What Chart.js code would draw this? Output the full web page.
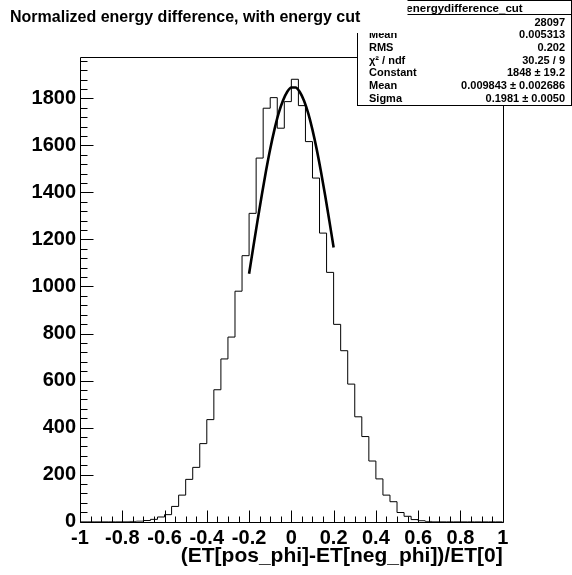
<!DOCTYPE html>
<html><head><meta charset="utf-8">
<script src="https://cdn.jsdelivr.net/npm/chart.js@4/dist/chart.umd.min.js"></script>
<style>html,body{margin:0;padding:0;background:#fff}canvas{display:block}</style>
</head><body>
<canvas id="c" width="572" height="575"></canvas>
<script>
// ---- data ----
const titleText = "Normalized energy difference, with energy cut";
const xAxisTitle = "(ET[pos_phi]-ET[neg_phi])/ET[0]";
const xMin = -1, xMax = 1, nBins = 60;
const counts = [0,0,0,0,0,0,0,0,1,2,5,10,20,30,65,113,180,231,332,434,561,692,785,980,1131,1311,1546,1758,1803,1673,1786,1881,1769,1616,1461,1227,1060,839,727,585,446,362,258,182,113,85,39,23,9,4,1,0,0,0,0,0,0,0,0,0];
const fitX = [-0.2,-0.18,-0.16,-0.14,-0.12,-0.1,-0.08,-0.06,-0.04,-0.02,0,0.02,0.04,0.06,0.08,0.1,0.12,0.14,0.16,0.18,0.2];
const fitY = [1054,1168,1280,1388,1491,1585,1667,1737,1790,1827,1846,1846,1827,1790,1736,1666,1583,1489,1387,1278,1166];
const yAxisMax = 1977;
const yTicks = [0,200,400,600,800,1000,1200,1400,1600,1800];
const xTicks = [-1,-0.8,-0.6,-0.4,-0.2,0,0.2,0.4,0.6,0.8,1];
const yMinorStep = 40, xMinorStep = 0.05;
const statsTitle = "energydifference_cut";
const statLabels = ["Entries","Mean","RMS","\u03C7\u00B2 / ndf","Constant","Mean","Sigma"];
const statValues = ["28097","0.005313","0.202","30.25 / 9","1848 \u00B1 19.2","0.009843 \u00B1 0.002686","0.1981 \u00B1 0.0050"];

const FONT = "'Liberation Sans', Arial, Helvetica, sans-serif";
const binW = (xMax - xMin) / nBins;
const histPts = counts.map((c, k) => ({x: xMin + k * binW, y: c}));
histPts.push({x: xMax, y: counts[counts.length - 1]});
const fitPts = fitX.map((x, i) => ({x, y: fitY[i]}));

const fmt = v => { const r = Math.round(v * 10) / 10; return (Math.abs(r) < 1e-9 ? 0 : r).toString(); };

const rootPlugin = {
  id: 'rootStyle',
  beforeDatasetsDraw(chart) {
    const {ctx, chartArea: a, scales: {x, y}} = chart;
    ctx.save();
    ctx.strokeStyle = '#000'; ctx.lineWidth = 1;
    const L = Math.round(a.left) + 0.5, R = Math.round(a.right) + 0.5, T = Math.round(a.top) + 0.5, B = Math.round(a.bottom) + 0.5;
    ctx.beginPath();
    ctx.rect(L, T, R - L, B - T);
    for (let i = 0; i * yMinorStep <= yAxisMax; i++) {
      const v = i * yMinorStep;
      const py = Math.round(y.getPixelForValue(v)) + 0.5;
      const len = yTicks.includes(v) ? 13 : 7;
      ctx.moveTo(L, py); ctx.lineTo(L + len, py);
    }
    const n = Math.round((xMax - xMin) / xMinorStep);
    for (let i = 0; i <= n; i++) {
      const v = xMin + i * xMinorStep;
      const px = Math.round(x.getPixelForValue(v)) + 0.5;
      const major = xTicks.some(t => Math.abs(t - v) < 1e-6);
      const len = major ? 12 : 6;
      ctx.moveTo(px, B); ctx.lineTo(px, B - len);
    }
    ctx.stroke();
    ctx.restore();
  },
  afterDraw(chart) {
    const {ctx} = chart;
    ctx.save();
    const bx0 = 357.5, by0 = 0.5, bx1 = chart.width - 0.5, by1 = 105.5;
    ctx.fillStyle = '#fff';
    ctx.fillRect(bx0, by0, bx1 - bx0, by1 - by0);
    ctx.strokeStyle = '#000'; ctx.lineWidth = 1;
    ctx.strokeRect(bx0, by0, bx1 - bx0, by1 - by0);
    ctx.beginPath(); ctx.moveTo(bx0, 14.5); ctx.lineTo(bx1, 14.5); ctx.stroke();
    ctx.fillStyle = '#000';
    ctx.font = "bold 11.5px " + FONT;
    ctx.textBaseline = 'middle';
    ctx.textAlign = 'center';
    ctx.fillText(statsTitle, (bx0 + bx1) / 2, 8.5);
    ctx.font = "bold 11px " + FONT;
    const rowY = [22.7, 35.3, 48, 60.6, 73.3, 85.9, 98.6];
    statLabels.forEach((s, i) => {
      ctx.textAlign = 'left'; ctx.fillText(s, 369, rowY[i]);
      ctx.textAlign = 'right'; ctx.fillText(statValues[i], 565, rowY[i]);
    });
    ctx.fillStyle = '#fff';
    ctx.fillRect(0, 0, 407.5, 33);
    ctx.fillStyle = '#000';
    ctx.font = "bold 16px " + FONT;
    ctx.textAlign = 'left'; ctx.textBaseline = 'alphabetic';
    ctx.fillText(titleText, 10, 22);
    ctx.restore();
  }
};

new Chart(document.getElementById('c'), {
  type: 'line',
  data: {
    datasets: [
      {data: histPts, stepped: 'after', borderColor: '#000', borderWidth: 1, pointRadius: 0, fill: false},
      {data: fitPts, borderColor: '#000', borderWidth: 2.6, pointRadius: 0, fill: false, cubicInterpolationMode: 'monotone'}
    ]
  },
  options: {
    responsive: false, devicePixelRatio: 1, animation: false,
    layout: {padding: {top: 56.7, right: 69.3, left: 0, bottom: 0}},
    plugins: {legend: {display: false}, tooltip: {enabled: false}, title: {display: false}},
    scales: {
      x: {
        type: 'linear', min: xMin, max: xMax,
        grid: {display: false, drawTicks: false}, border: {display: false},
        ticks: {autoSkip: false, maxRotation: 0, color: '#000', padding: 5,
                font: {family: FONT, size: 20, weight: 'bold'}, callback: v => fmt(v)},
        afterBuildTicks(s) { s.ticks = xTicks.map(v => ({value: v})); },
        title: {display: true, text: xAxisTitle, align: 'end', color: '#000',
                font: {family: FONT, size: 21, weight: 'bold'}, padding: {top: 0, bottom: 6}},
        afterFit(s) { s.height = 53.3; }
      },
      y: {
        type: 'linear', min: 0, max: yAxisMax,
        grid: {display: false, drawTicks: false}, border: {display: false},
        ticks: {autoSkip: false, color: '#000', padding: 4,
                font: {family: FONT, size: 20, weight: 'bold'}, callback: v => fmt(v)},
        afterBuildTicks(s) { s.ticks = yTicks.map(v => ({value: v})); },
        afterFit(s) { s.width = 80; }
      }
    }
  },
  plugins: [rootPlugin]
});
</script>
</body></html>
